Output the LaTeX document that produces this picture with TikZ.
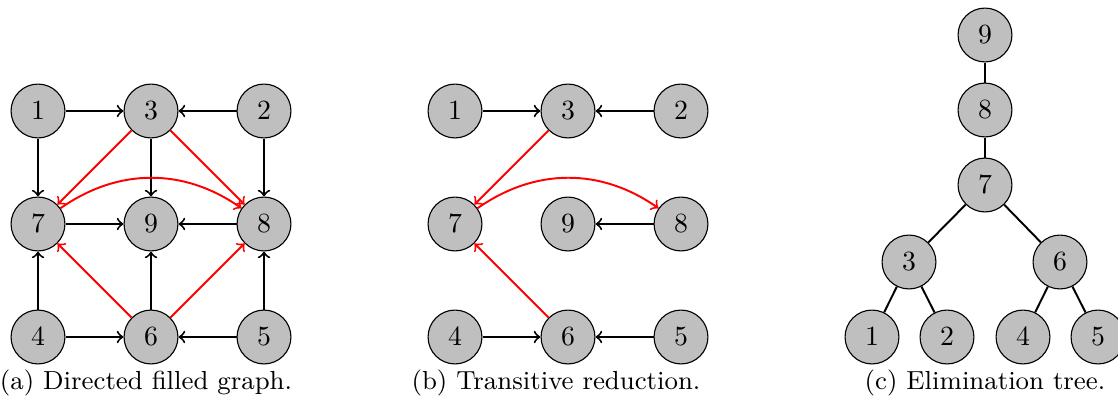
\documentclass[tikz,border=0pt]{standalone}
\usetikzlibrary{arrows}
\tikzset{
  vtx/.style={circle, draw, thin, fill=gray!50, inner sep=0pt, minimum size=19.4pt},
  dep/.style={->, line width=0.7pt},
  fil/.style={->, line width=0.7pt, red},
  subcap/.style={anchor=base, inner sep=0pt, font=\fontsize{9.4}{11}\selectfont},
}
\begin{document}
\begin{tikzpicture}[x=0.36pt, y=-0.36pt]
\useasboundingbox (0,0) rectangle (1118,403);
% (a) directed filled graph
\node[vtx] (a1) at (38,111){$1$};
\node[vtx] (a3) at (151,111){$3$};
\node[vtx] (a2) at (264,111){$2$};
\node[vtx] (a7) at (38,224){$7$};
\node[vtx] (a9) at (151,224){$9$};
\node[vtx] (a8) at (264,224){$8$};
\node[vtx] (a4) at (38,337){$4$};
\node[vtx] (a6) at (151,337){$6$};
\node[vtx] (a5) at (264,337){$5$};
\draw[dep](a1) -- (a3);
\draw[dep](a2) -- (a3);
\draw[dep](a1) -- (a7);
\draw[dep](a3) -- (a9);
\draw[dep](a2) -- (a8);
\draw[dep](a7) -- (a9);
\draw[dep](a8) -- (a9);
\draw[dep](a4) -- (a7);
\draw[dep](a6) -- (a9);
\draw[dep](a5) -- (a8);
\draw[dep](a4) -- (a6);
\draw[dep](a5) -- (a6);
\draw[fil](a3) -- (a7);
\draw[fil](a3) -- (a8);
\draw[fil](a6) -- (a7);
\draw[fil](a6) -- (a8);
\draw[fil](a7) to[bend left=35] (a8);
\node[subcap] (capa) at (146,389){(a) Directed filled graph.};

% (b) transitive reduction
\node[vtx] (b1) at (455,111){$1$};
\node[vtx] (b3) at (568,111){$3$};
\node[vtx] (b2) at (681,111){$2$};
\node[vtx] (b7) at (455,224){$7$};
\node[vtx] (b9) at (568,224){$9$};
\node[vtx] (b8) at (681,224){$8$};
\node[vtx] (b4) at (455,337){$4$};
\node[vtx] (b6) at (568,337){$6$};
\node[vtx] (b5) at (681,337){$5$};
\draw[dep](b1) -- (b3);
\draw[dep](b2) -- (b3);
\draw[dep](b8) -- (b9);
\draw[dep](b4) -- (b6);
\draw[dep](b5) -- (b6);
\draw[fil](b3) -- (b7);
\draw[fil](b6) -- (b7);
\draw[fil](b7) to[bend left=35] (b8);
\node[subcap] (capb) at (556,389){(b) Transitive reduction.};

% (c) elimination tree
\node[vtx] (c9) at (985,35){$9$};
\node[vtx] (c8) at (985,110){$8$};
\node[vtx] (c7) at (985,185){$7$};
\node[vtx] (c3) at (909,262){$3$};
\node[vtx] (c6) at (1060,262){$6$};
\node[vtx] (c1) at (872,337){$1$};
\node[vtx] (c2) at (947,337){$2$};
\node[vtx] (c4) at (1023,337){$4$};
\node[vtx] (c5) at (1098,337){$5$};
\draw[line width=0.7pt](c9) -- (c8);
\draw[line width=0.7pt](c8) -- (c7);
\draw[line width=0.7pt](c7) -- (c3);
\draw[line width=0.7pt](c7) -- (c6);
\draw[line width=0.7pt](c3) -- (c1);
\draw[line width=0.7pt](c3) -- (c2);
\draw[line width=0.7pt](c6) -- (c4);
\draw[line width=0.7pt](c6) -- (c5);
\node[subcap] (capc) at (985,389){(c) Elimination tree.};
\end{tikzpicture}
\end{document}
